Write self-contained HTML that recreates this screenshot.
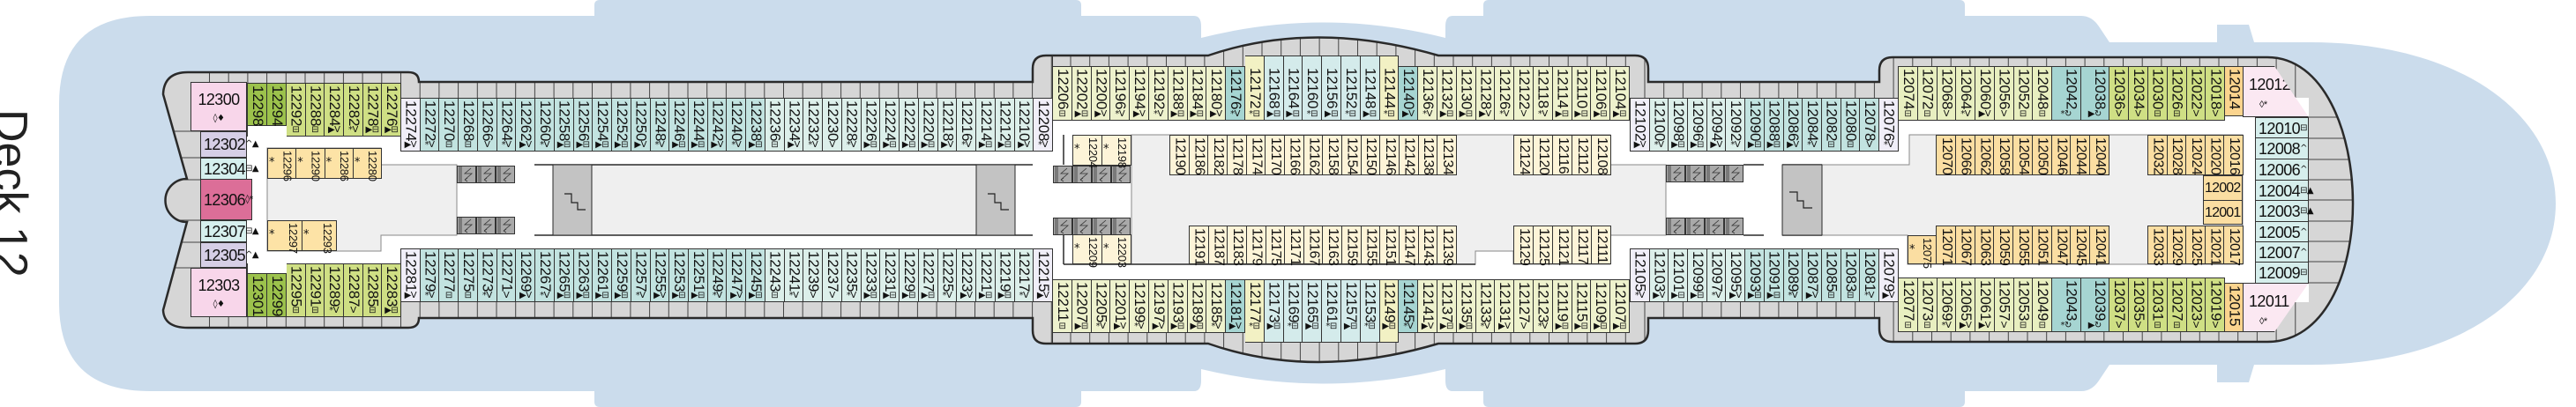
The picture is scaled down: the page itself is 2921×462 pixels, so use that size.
<!DOCTYPE html>
<html><head><meta charset="utf-8">
<style>
*{margin:0;padding:0}
body{width:2921px;height:462px;overflow:hidden;background:#fff;position:relative;font-family:"Liberation Sans",sans-serif;color:#111}
svg.bg{position:absolute;left:0;top:0}
.r{position:absolute;display:flex;border-left:1px solid #333;box-sizing:border-box}
.r>div{position:relative;flex:none;box-sizing:border-box;border:1px solid #333;border-left:none;width:var(--w);height:100%;writing-mode:vertical-rl;font-size:17px;line-height:20px;padding-top:2px;letter-spacing:-0.2px}
.r>div i{position:absolute;left:0;right:0;bottom:1px;writing-mode:horizontal-tb;font-style:normal;font-size:10px;line-height:11px;text-align:center;letter-spacing:-0.5px;font-family:"DejaVu Sans",sans-serif}
.q>div{font-size:16px;letter-spacing:-0.4px}
.s>div{font-size:13px;padding-top:2px;letter-spacing:-0.3px}
.s>div i{bottom:auto;top:10px;left:1px;right:auto;font-size:13px}
.h{position:absolute;box-sizing:border-box;border:1px solid #333;font-size:18px;text-align:left;padding-left:3px;line-height:22px;letter-spacing:-0.6px}
.h i{font-style:normal;font-size:10px;font-family:"DejaVu Sans",sans-serif;vertical-align:top}
.r>.t{background:#c2e3e0}.r>.u{background:#dcefea}.r>.g{background:#eef2cd}.r>.y{background:#f2f1c4}
.r>.b{background:#d4ebeb}.r>.T{background:#a6d5d2}.r>.o{background:#9cc24c}.r>.l{background:#cfdf84}
.r>.w{background:#f0eef8}.r>.n{background:#fbd48e}.r>.c{background:#fdf4d8}.r>.a{background:#fde3a6}
.r>.f{background:#fbdea2}.r>.k{background:#e8efc0}
.deck{position:absolute;left:-14px;top:124px;writing-mode:vertical-rl;font-size:52px;line-height:52px;color:#222}
</style></head><body>
<svg class="bg" width="2921" height="462" viewBox="0 0 2921 462">
<defs>
<clipPath id="dk"><path id="dp" d="M 213 82 H 463 Q 475 82 475 93 H 1171 V 78 Q 1171 63 1186 63 H 1370 Q 1490 22 1631 63 H 1854 Q 1869 63 1869 78 V 93 H 2131 V 80 Q 2131 65 2146 65 H 2571 C 2635 65 2668 150 2668 231 C 2668 312 2635 388 2571 388 H 2146 Q 2131 388 2131 373 V 361 H 1869 V 375 Q 1869 390 1854 390 H 1631 Q 1490 432 1370 390 H 1186 Q 1171 390 1171 375 V 361 H 475 Q 475 372 463 372 H 213 Q 186 372 185 352 L 212 252 A 24.5 24.5 0 0 1 212 203 L 185 107 Q 186 82 213 82 Z"/></clipPath>
<pattern id="gl" x="454" y="0" width="21.7" height="10" patternUnits="userSpaceOnUse"><rect width="21.7" height="10" fill="#d6d6d6"/><rect x="0" width="1" height="10" fill="#444"/></pattern>
<symbol id="el" viewBox="0 0 22 20"><rect x="0.5" y="0.5" width="21" height="19" fill="#a9a9a9" stroke="#333"/><path d="M3 1V19M5 1V19M16 3 9 9 17 9 9 16M9 16 12 14M9 16 12 18" fill="none" stroke="#333" stroke-width="0.8"/></symbol>
</defs>
<path fill="#cbdcec" d="M 67 118 Q 67 18 170 18 H 674 V 6 Q 674 0 680 0 H 1220 Q 1226 0 1226 6 V 18 H 1354 Q 1362 18 1362 30 V 43 Q 1500 8 1639 43 V 30 Q 1639 18 1647 18 H 1682 V 6 Q 1682 0 1688 0 H 2222 Q 2228 0 2228 6 V 18 H 2360 Q 2372 18 2380 30 L 2392 48 H 2514 V 28 H 2550 L 2556 48 H 2620 C 2790 48 2898 130 2898 231 C 2898 332 2790 414 2620 414 H 2556 L 2550 434 H 2514 V 414 H 2392 L 2380 432 Q 2372 444 2360 444 H 2228 V 456 Q 2228 462 2222 462 H 1688 Q 1682 462 1682 456 V 444 H 1647 Q 1639 444 1639 432 V 419 Q 1500 452 1362 419 V 432 Q 1362 444 1354 444 H 1226 V 456 Q 1226 462 1220 462 H 680 Q 674 462 674 456 V 444 H 170 Q 67 444 67 344 Z"/>
<use href="#dp" fill="#fff"/>
<g clip-path="url(#dk)">
<rect x="0" y="0" width="2921" height="111" fill="url(#gl)"/>
<rect x="0" y="343" width="2921" height="119" fill="url(#gl)"/>
<rect x="0" y="0" width="228" height="462" fill="#d6d6d6"/>
<rect x="2618" y="0" width="303" height="462" fill="#d6d6d6"/>
<path d="M185 149H228M185 179H228M185 204H228M185 250H228M185 275H228M185 304H228M2618 157H2680M2618 181H2680M2618 204H2680M2618 227H2680M2618 251H2680M2618 274H2680M2618 297H2680M2618 321H2680M2618 133H2680" stroke="#444" stroke-width="1"/>
</g>
<use href="#dp" fill="none" stroke="#2a2a2a" stroke-width="2.5"/>
<path d="M303 168H432V187H518V267H432V285H303Z" fill="#efefef" stroke="#888"/>
<rect x="671" y="187" width="436" height="80" fill="#efefef"/>
<path d="M606 187H1171M606 267H1171" stroke="#2a2a2a" stroke-width="1.5"/>
<rect x="627" y="187" width="44" height="80" fill="#c3c3c3" stroke="#2a2a2a"/>
<rect x="1107" y="187" width="44" height="80" fill="#c3c3c3" stroke="#2a2a2a"/>
<path d="M1206 153V187M1206 267V300" stroke="#2a2a2a" stroke-width="1.5"/>
<path d="M1283 153H1826V187H1889V267H1826V300H1716V285H1673V300H1283Z" fill="#efefef" stroke="#888"/>
<path d="M1206 300H1673" stroke="#2a2a2a" stroke-width="1.5"/>
<path d="M1977 187H2000M1977 267H2000M2021 187H2066M2021 267H2066" stroke="#2a2a2a" stroke-width="1.5"/>
<path d="M2066 187H2165V153H2543V300H2163V267H2066Z" fill="#efefef" stroke="#888"/>
<rect x="2021" y="187" width="45" height="80" fill="#c3c3c3" stroke="#2a2a2a"/>
<path d="M640 220H648V230H655V238H664M1120 220H1128V230H1135V238H1144M2029 218H2038V228H2045V236H2055" fill="none" stroke="#222" stroke-width="1.2"/>
<use href="#el" x="518" y="188" width="22" height="20"/><use href="#el" x="540" y="188" width="22" height="20"/><use href="#el" x="562" y="188" width="22" height="20"/>
<use href="#el" x="518" y="246" width="22" height="20"/><use href="#el" x="540" y="246" width="22" height="20"/><use href="#el" x="562" y="246" width="22" height="20"/>
<use href="#el" x="1194" y="188" width="22" height="20"/><use href="#el" x="1216" y="188" width="22" height="20"/><use href="#el" x="1238" y="188" width="22" height="20"/><use href="#el" x="1260" y="188" width="22" height="20"/>
<use href="#el" x="1194" y="247" width="22" height="20"/><use href="#el" x="1216" y="247" width="22" height="20"/><use href="#el" x="1238" y="247" width="22" height="20"/><use href="#el" x="1260" y="247" width="22" height="20"/>
<use href="#el" x="1889" y="187" width="22" height="20"/><use href="#el" x="1911" y="187" width="22" height="20"/><use href="#el" x="1933" y="187" width="22" height="20"/><use href="#el" x="1955" y="187" width="22" height="20"/>
<use href="#el" x="1889" y="247" width="22" height="20"/><use href="#el" x="1911" y="247" width="22" height="20"/><use href="#el" x="1933" y="247" width="22" height="20"/><use href="#el" x="1955" y="247" width="22" height="20"/>
</svg>

<div class="deck">Deck 12</div>

<div class="h" style="left:216px;top:93px;width:64px;height:56px;background:#f8d6ea;text-align:center;padding:8px 0 0">12300<br><i>◊♦</i></div>
<div class="h" style="left:227px;top:149px;width:53px;height:30px;background:#d6cfe6;padding-top:3px">12302<i>^▲</i></div>
<div class="h" style="left:227px;top:179px;width:53px;height:25px;background:#d6f0ee;padding-top:1px">12304<i>⊟▲</i></div>
<div class="h" style="left:227px;top:203px;width:59px;height:47px;background:#dc6e98;padding-top:12px">12306<i>◊*</i></div>
<div class="h" style="left:227px;top:250px;width:53px;height:25px;background:#d6f0ee;padding-top:1px">12307<i>⊟▲</i></div>
<div class="h" style="left:227px;top:275px;width:53px;height:29px;background:#d6cfe6;padding-top:3px">12305<i>^▲</i></div>
<div class="h" style="left:216px;top:304px;width:64px;height:56px;background:#f8d6ea;text-align:center;padding:8px 0 0">12303<br><i>◊♦</i></div>

<div class="r" style="left:280px;top:94px;height:61px;align-items:flex-start">
<div class="o" style="--w:22px;height:49px">12298</div><div class="o" style="--w:22px;height:49px">12294</div>
<div class="l" style="--w:21.7px">12292<i>⊟</i></div><div class="l" style="--w:21.7px">12288<i>⊟</i></div><div class="l" style="--w:21.7px">12284<i>▶V</i></div><div class="l" style="--w:21.7px">12282<i>*V</i></div><div class="l" style="--w:21.7px">12278<i>▶⊟</i></div><div class="l" style="--w:21.7px">12276<i>▶⊟</i></div>
</div>
<div class="r" style="left:280px;top:299px;height:61px;align-items:flex-end">
<div class="o" style="--w:22px;height:50px">12301</div><div class="o" style="--w:22px;height:50px">12299</div>
<div class="l" style="--w:21.7px">12295<i>⊟</i></div><div class="l" style="--w:21.7px">12291<i>⊟</i></div><div class="l" style="--w:21.7px">12289<i>*V</i></div><div class="l" style="--w:21.7px">12287<i>V</i></div><div class="l" style="--w:21.7px">12285<i>⊟</i></div><div class="l" style="--w:21.7px">12283<i>▶⊟</i></div>
</div>
<div class="r s" style="left:303px;top:168px;height:35px;--w:32.3px">
<div class="a">12296<i>*</i></div><div class="a">12290<i>*</i></div><div class="a">12286<i>*</i></div><div class="a">12280<i>*</i></div>
</div>
<div class="r s" style="left:303px;top:250px;height:35px">
<div class="a" style="--w:39px">12297<i>*</i></div><div class="a" style="--w:39px">12293<i>*</i></div>
</div>

<div class="r" style="left:454px;top:111px;height:61px;--w:21.74px">
<div class="w">12274<i>▶V</i></div><div class="t">12272<i>*V</i></div><div class="t">12270<i>⊟</i></div><div class="t">12268<i>⊟</i></div><div class="t">12266<i>V</i></div><div class="t">12264<i>*V</i></div><div class="t">12262<i>▶V</i></div><div class="t">12260<i>*V</i></div><div class="t">12258<i>▶⊟</i></div><div class="t">12256<i>▶⊟</i></div><div class="t">12254<i>▶⊟</i></div><div class="t">12252<i>▶⊟</i></div><div class="t">12250<i>▶V</i></div><div class="t">12248<i>*V</i></div><div class="t">12246<i>▶⊟</i></div><div class="t">12244<i>▶⊟</i></div><div class="t">12242<i>▶V</i></div><div class="t">12240<i>*V</i></div><div class="t">12238<i>▶⊟</i></div><div class="u">12236<i>⊟</i></div><div class="u">12234<i>▶V</i></div><div class="u">12232<i>*V</i></div><div class="u">12230<i>V</i></div><div class="u">12228<i>*V</i></div><div class="u">12226<i>▶⊟</i></div><div class="u">12224<i>▶⊟</i></div><div class="u">12222<i>▶⊟</i></div><div class="u">12220<i>▶⊟</i></div><div class="u">12218<i>▶V</i></div><div class="u">12216<i>*V</i></div><div class="u">12214<i>▶⊟</i></div><div class="u">12212<i>▶⊟</i></div><div class="u">12210<i>▶V</i></div><div class="w">12208<i>*V</i></div>
</div>
<div class="r" style="left:454px;top:282px;height:61px;--w:21.74px">
<div class="w">12281<i>▶V</i></div><div class="t">12279<i>*V</i></div><div class="t">12277<i>⊟</i></div><div class="t">12275<i>⊟</i></div><div class="t">12273<i>*V</i></div><div class="t">12271<i>V</i></div><div class="t">12269<i>▶V</i></div><div class="t">12267<i>*V</i></div><div class="t">12265<i>▶⊟</i></div><div class="t">12263<i>▶⊟</i></div><div class="t">12261<i>▶⊟</i></div><div class="t">12259<i>▶⊟</i></div><div class="t">12257<i>*V</i></div><div class="t">12255<i>▶V</i></div><div class="t">12253<i>▶⊟</i></div><div class="t">12251<i>▶⊟</i></div><div class="t">12249<i>*V</i></div><div class="t">12247<i>▶V</i></div><div class="t">12245<i>▶⊟</i></div><div class="u">12243<i>⊟</i></div><div class="u">12241<i>*V</i></div><div class="u">12239<i>V</i></div><div class="u">12237<i>V</i></div><div class="u">12235<i>*V</i></div><div class="u">12233<i>▶⊟</i></div><div class="u">12231<i>▶⊟</i></div><div class="u">12229<i>▶⊟</i></div><div class="u">12227<i>▶⊟</i></div><div class="u">12225<i>*V</i></div><div class="u">12223<i>▶V</i></div><div class="u">12221<i>▶⊟</i></div><div class="u">12219<i>▶⊟</i></div><div class="u">12217<i>*V</i></div><div class="w">12215<i>▶V</i></div>
</div>

<div class="r" style="left:1193px;top:63px;height:74px;--w:21.8px;align-items:flex-end">
<div class="g" style="height:62px">12206<i>⊟</i></div><div class="g" style="height:62px">12202<i>▶⊟</i></div><div class="g" style="height:62px">12200<i>▶V</i></div><div class="g" style="height:62px">12196<i>*V</i></div><div class="g" style="height:62px">12194<i>▶V</i></div><div class="g" style="height:62px">12192<i>*V</i></div><div class="g" style="height:62px">12188<i>▶⊟</i></div><div class="g" style="height:62px">12184<i>▶⊟</i></div><div class="g" style="height:62px">12180<i>▶V</i></div><div class="T" style="height:62px">12176<i>*V</i></div><div class="y" style="padding-top:13px">12172<i>*⊟</i></div><div class="b" style="padding-top:13px">12168<i>▶⊟</i></div><div class="b" style="padding-top:13px">12164<i>▶⊟</i></div><div class="b" style="padding-top:13px">12160<i>*⊟</i></div><div class="b" style="padding-top:13px">12156<i>▶⊟</i></div><div class="b" style="padding-top:13px">12152<i>*⊟</i></div><div class="b" style="padding-top:13px">12148<i>▶⊟</i></div><div class="y" style="padding-top:13px">12144<i>*⊟</i></div><div class="T" style="height:62px">12140<i>▶V</i></div><div class="g" style="height:62px">12136<i>*V</i></div><div class="g" style="height:62px">12132<i>▶⊟</i></div><div class="g" style="height:62px">12130<i>▶⊟</i></div><div class="g" style="height:62px">12128<i>▶V</i></div><div class="g" style="height:62px">12126<i>*V</i></div><div class="g" style="height:62px">12122<i>V</i></div><div class="g" style="height:62px">12118<i>*V</i></div><div class="g" style="height:62px">12114<i>▶⊟</i></div><div class="g" style="height:62px">12110<i>▶⊟</i></div><div class="g" style="height:62px">12106<i>▶⊟</i></div><div class="g" style="height:62px">12104<i>▶⊟</i></div>
</div>
<div class="r" style="left:1193px;top:317px;height:72px;--w:21.8px;align-items:flex-start">
<div class="g" style="height:61px">12211<i>⊟</i></div><div class="g" style="height:61px">12207<i>▶⊟</i></div><div class="g" style="height:61px">12205<i>*V</i></div><div class="g" style="height:61px">12201<i>▶V</i></div><div class="g" style="height:61px">12199<i>*V</i></div><div class="g" style="height:61px">12197<i>▶V</i></div><div class="g" style="height:61px">12193<i>▶⊟</i></div><div class="g" style="height:61px">12189<i>▶⊟</i></div><div class="g" style="height:61px">12185<i>*V</i></div><div class="T" style="height:61px">12181<i>▶V</i></div><div class="y">12177<i style="bottom:12px">*⊟</i></div><div class="b">12173<i style="bottom:12px">▶⊟</i></div><div class="b">12169<i style="bottom:12px">*⊟</i></div><div class="b">12165<i style="bottom:12px">▶⊟</i></div><div class="b">12161<i style="bottom:12px">*⊟</i></div><div class="b">12157<i style="bottom:12px">▶⊟</i></div><div class="b">12153<i style="bottom:12px">*⊟</i></div><div class="y">12149<i style="bottom:12px">▶⊟</i></div><div class="T" style="height:61px">12145<i>*V</i></div><div class="g" style="height:61px">12141<i>▶V</i></div><div class="g" style="height:61px">12137<i>▶⊟</i></div><div class="g" style="height:61px">12135<i>▶⊟</i></div><div class="g" style="height:61px">12133<i>*V</i></div><div class="g" style="height:61px">12131<i>▶V</i></div><div class="g" style="height:61px">12127<i>V</i></div><div class="g" style="height:61px">12123<i>*V</i></div><div class="g" style="height:61px">12119<i>▶⊟</i></div><div class="g" style="height:61px">12115<i>▶⊟</i></div><div class="g" style="height:61px">12109<i>▶⊟</i></div><div class="g" style="height:61px">12107<i>▶⊟</i></div>
</div>
<div class="r s" style="left:1216px;top:153px;height:35px;--w:33px"><div class="c">12204<i>*</i></div><div class="c">12198<i>*</i></div></div>
<div class="r s" style="left:1216px;top:266px;height:34px;--w:33px"><div class="c">12209<i>*</i></div><div class="c">12203<i>*</i></div></div>
<div class="r q" style="left:1326px;top:153px;height:46px;--w:21.67px">
<div class="c">12190</div><div class="c">12186</div><div class="c">12182</div><div class="c">12178</div><div class="c">12174</div><div class="c">12170</div><div class="c">12166</div><div class="c">12162</div><div class="c">12158</div><div class="c">12154</div><div class="c">12150</div><div class="c">12146</div><div class="c">12142</div><div class="c">12138</div><div class="c">12134</div>
</div>
<div class="r q" style="left:1716px;top:153px;height:46px;--w:22px"><div class="c">12124</div><div class="c">12120</div><div class="c">12116</div><div class="c">12112</div><div class="c">12108</div></div>
<div class="r q" style="left:1348px;top:256px;height:44px;--w:21.64px">
<div class="c">12191</div><div class="c">12187</div><div class="c">12183</div><div class="c">12179</div><div class="c">12175</div><div class="c">12171</div><div class="c">12167</div><div class="c">12163</div><div class="c">12159</div><div class="c">12155</div><div class="c">12151</div><div class="c">12147</div><div class="c">12143</div><div class="c">12139</div>
</div>
<div class="r q" style="left:1716px;top:256px;height:44px;--w:22px"><div class="c">12129</div><div class="c">12125</div><div class="c">12121</div><div class="c">12117</div><div class="c">12111</div></div>

<div class="r" style="left:1848px;top:111px;height:61px;--w:21.7px">
<div class="w">12102<i>▶V</i></div><div class="u">12100<i>*V</i></div><div class="u">12098<i>▶⊟</i></div><div class="u">12096<i>▶⊟</i></div><div class="u">12094<i>▶V</i></div><div class="u">12092<i>*V</i></div><div class="t">12090<i>▶⊟</i></div><div class="t">12088<i>▶⊟</i></div><div class="t">12086<i>▶V</i></div><div class="t">12084<i>*V</i></div><div class="t">12082<i>⊟</i></div><div class="t">12080<i>⊟</i></div><div class="t">12078<i>V</i></div><div class="w">12076<i>*V</i></div>
</div>
<div class="r" style="left:1848px;top:282px;height:61px;--w:21.7px">
<div class="w">12105<i>*V</i></div><div class="u">12103<i>▶V</i></div><div class="u">12101<i>▶⊟</i></div><div class="u">12099<i>▶⊟</i></div><div class="u">12097<i>*V</i></div><div class="u">12095<i>▶V</i></div><div class="t">12093<i>▶⊟</i></div><div class="t">12091<i>▶⊟</i></div><div class="t">12089<i>*V</i></div><div class="t">12087<i>▶V</i></div><div class="t">12085<i>⊟</i></div><div class="t">12083<i>⊟</i></div><div class="t">12081<i>*V</i></div><div class="w">12079<i>▶V</i></div>
</div>

<div class="r" style="left:2152px;top:75px;height:62px;--w:21.75px;align-items:flex-start">
<div class="k">12074<i>⊟</i></div><div class="k">12072<i>⊟</i></div><div class="k">12068<i>V</i></div><div class="k">12064<i>*V</i></div><div class="k">12060<i>▶V</i></div><div class="k">12056<i>V</i></div><div class="k">12052<i>⊟</i></div><div class="k">12048<i>⊟</i></div><div class="T" style="--w:32.5px">12042<i>*↻</i></div><div class="T" style="--w:32.5px">12038<i>▶↻</i></div><div class="l" style="--w:21.9px">12036<i>V</i></div><div class="l" style="--w:21.9px">12034<i>V</i></div><div class="l" style="--w:21.9px">12030<i>⊟</i></div><div class="l" style="--w:21.9px">12026<i>⊟</i></div><div class="l" style="--w:21.9px">12022<i>V</i></div><div class="l" style="--w:21.9px">12018<i>V</i></div><div class="n" style="--w:21px;height:57px">12014</div>
</div>
<div class="r" style="left:2152px;top:315px;height:62px;--w:21.75px;align-items:flex-end">
<div class="k">12077<i>⊟</i></div><div class="k">12073<i>⊟</i></div><div class="k">12069<i>*V</i></div><div class="k">12065<i>▶V</i></div><div class="k">12061<i>▶V</i></div><div class="k">12057<i>V</i></div><div class="k">12053<i>⊟</i></div><div class="k">12049<i>⊟</i></div><div class="T" style="--w:32.5px">12043<i>*↻</i></div><div class="T" style="--w:32.5px">12039<i>▶↻</i></div><div class="l" style="--w:21.9px">12037<i>V</i></div><div class="l" style="--w:21.9px">12035<i>V</i></div><div class="l" style="--w:21.9px">12031<i>⊟</i></div><div class="l" style="--w:21.9px">12027<i>⊟</i></div><div class="l" style="--w:21.9px">12023<i>V</i></div><div class="l" style="--w:21.9px">12019<i>V</i></div><div class="n" style="--w:21px;height:56px">12015</div>
</div>
<div class="r q" style="left:2195px;top:153px;height:46px;--w:21.78px">
<div class="f">12070</div><div class="f">12066</div><div class="f">12062</div><div class="f">12058</div><div class="f">12054</div><div class="f">12050</div><div class="f">12046</div><div class="f">12044</div><div class="f">12040</div>
</div>
<div class="r q" style="left:2435px;top:153px;height:46px;--w:21.6px"><div class="f">12032</div><div class="f">12028</div><div class="f">12024</div><div class="f">12020</div><div class="f">12016</div></div>
<div class="r s" style="left:2163px;top:267px;height:33px;--w:32px"><div class="f">12075<i>*</i></div></div>
<div class="r q" style="left:2195px;top:256px;height:44px;--w:21.78px">
<div class="f">12071</div><div class="f">12067</div><div class="f">12063</div><div class="f">12059</div><div class="f">12055</div><div class="f">12051</div><div class="f">12047</div><div class="f">12045</div><div class="f">12041</div>
</div>
<div class="r q" style="left:2435px;top:256px;height:44px;--w:21.6px"><div class="f">12033</div><div class="f">12029</div><div class="f">12025</div><div class="f">12021</div><div class="f">12017</div></div>
<div class="h" style="left:2498px;top:199px;width:45px;height:29px;background:#fbdea2;font-size:16px;padding:3px 0 0 1px;letter-spacing:-0.8px">12002</div>
<div class="h" style="left:2498px;top:227px;width:45px;height:28px;background:#fbdea2;font-size:16px;padding:3px 0 0 1px;letter-spacing:-0.8px">12001</div>

<div class="h" style="left:2543px;top:75px;width:75px;height:58px;background:#fbe8f2;clip-path:polygon(0 0,36px 0,75px 58px,0 58px);padding:10px 0 0 6px;line-height:20px">12012<br><span style="font-size:11px;padding-left:12px">◊*</span></div>
<div class="h" style="left:2543px;top:321px;width:75px;height:56px;background:#fbe8f2;clip-path:polygon(0 0,75px 0,36px 56px,0 56px);padding:10px 0 0 6px;line-height:20px">12011<br><span style="font-size:11px;padding-left:12px">◊*</span></div>
<div class="h" style="left:2557px;top:133px;width:61px;height:24px;background:#d6eeec;padding-top:1px">12010<i>⊟</i></div>
<div class="h" style="left:2557px;top:156px;width:61px;height:25px;background:#d6eeec;padding-top:1px">12008<i>^</i></div>
<div class="h" style="left:2557px;top:180px;width:61px;height:25px;background:#d6eeec;padding-top:1px">12006<i>^</i></div>
<div class="h" style="left:2557px;top:204px;width:61px;height:24px;background:#d6eeec;padding-top:1px">12004<i>⊟▲</i></div>
<div class="h" style="left:2557px;top:227px;width:61px;height:25px;background:#d6eeec;padding-top:1px">12003<i>⊟▲</i></div>
<div class="h" style="left:2557px;top:251px;width:61px;height:24px;background:#d6eeec;padding-top:1px">12005<i>^</i></div>
<div class="h" style="left:2557px;top:274px;width:61px;height:24px;background:#d6eeec;padding-top:1px">12007<i>^</i></div>
<div class="h" style="left:2557px;top:297px;width:61px;height:25px;background:#d6eeec;padding-top:1px">12009<i>⊟</i></div>
</body></html>
